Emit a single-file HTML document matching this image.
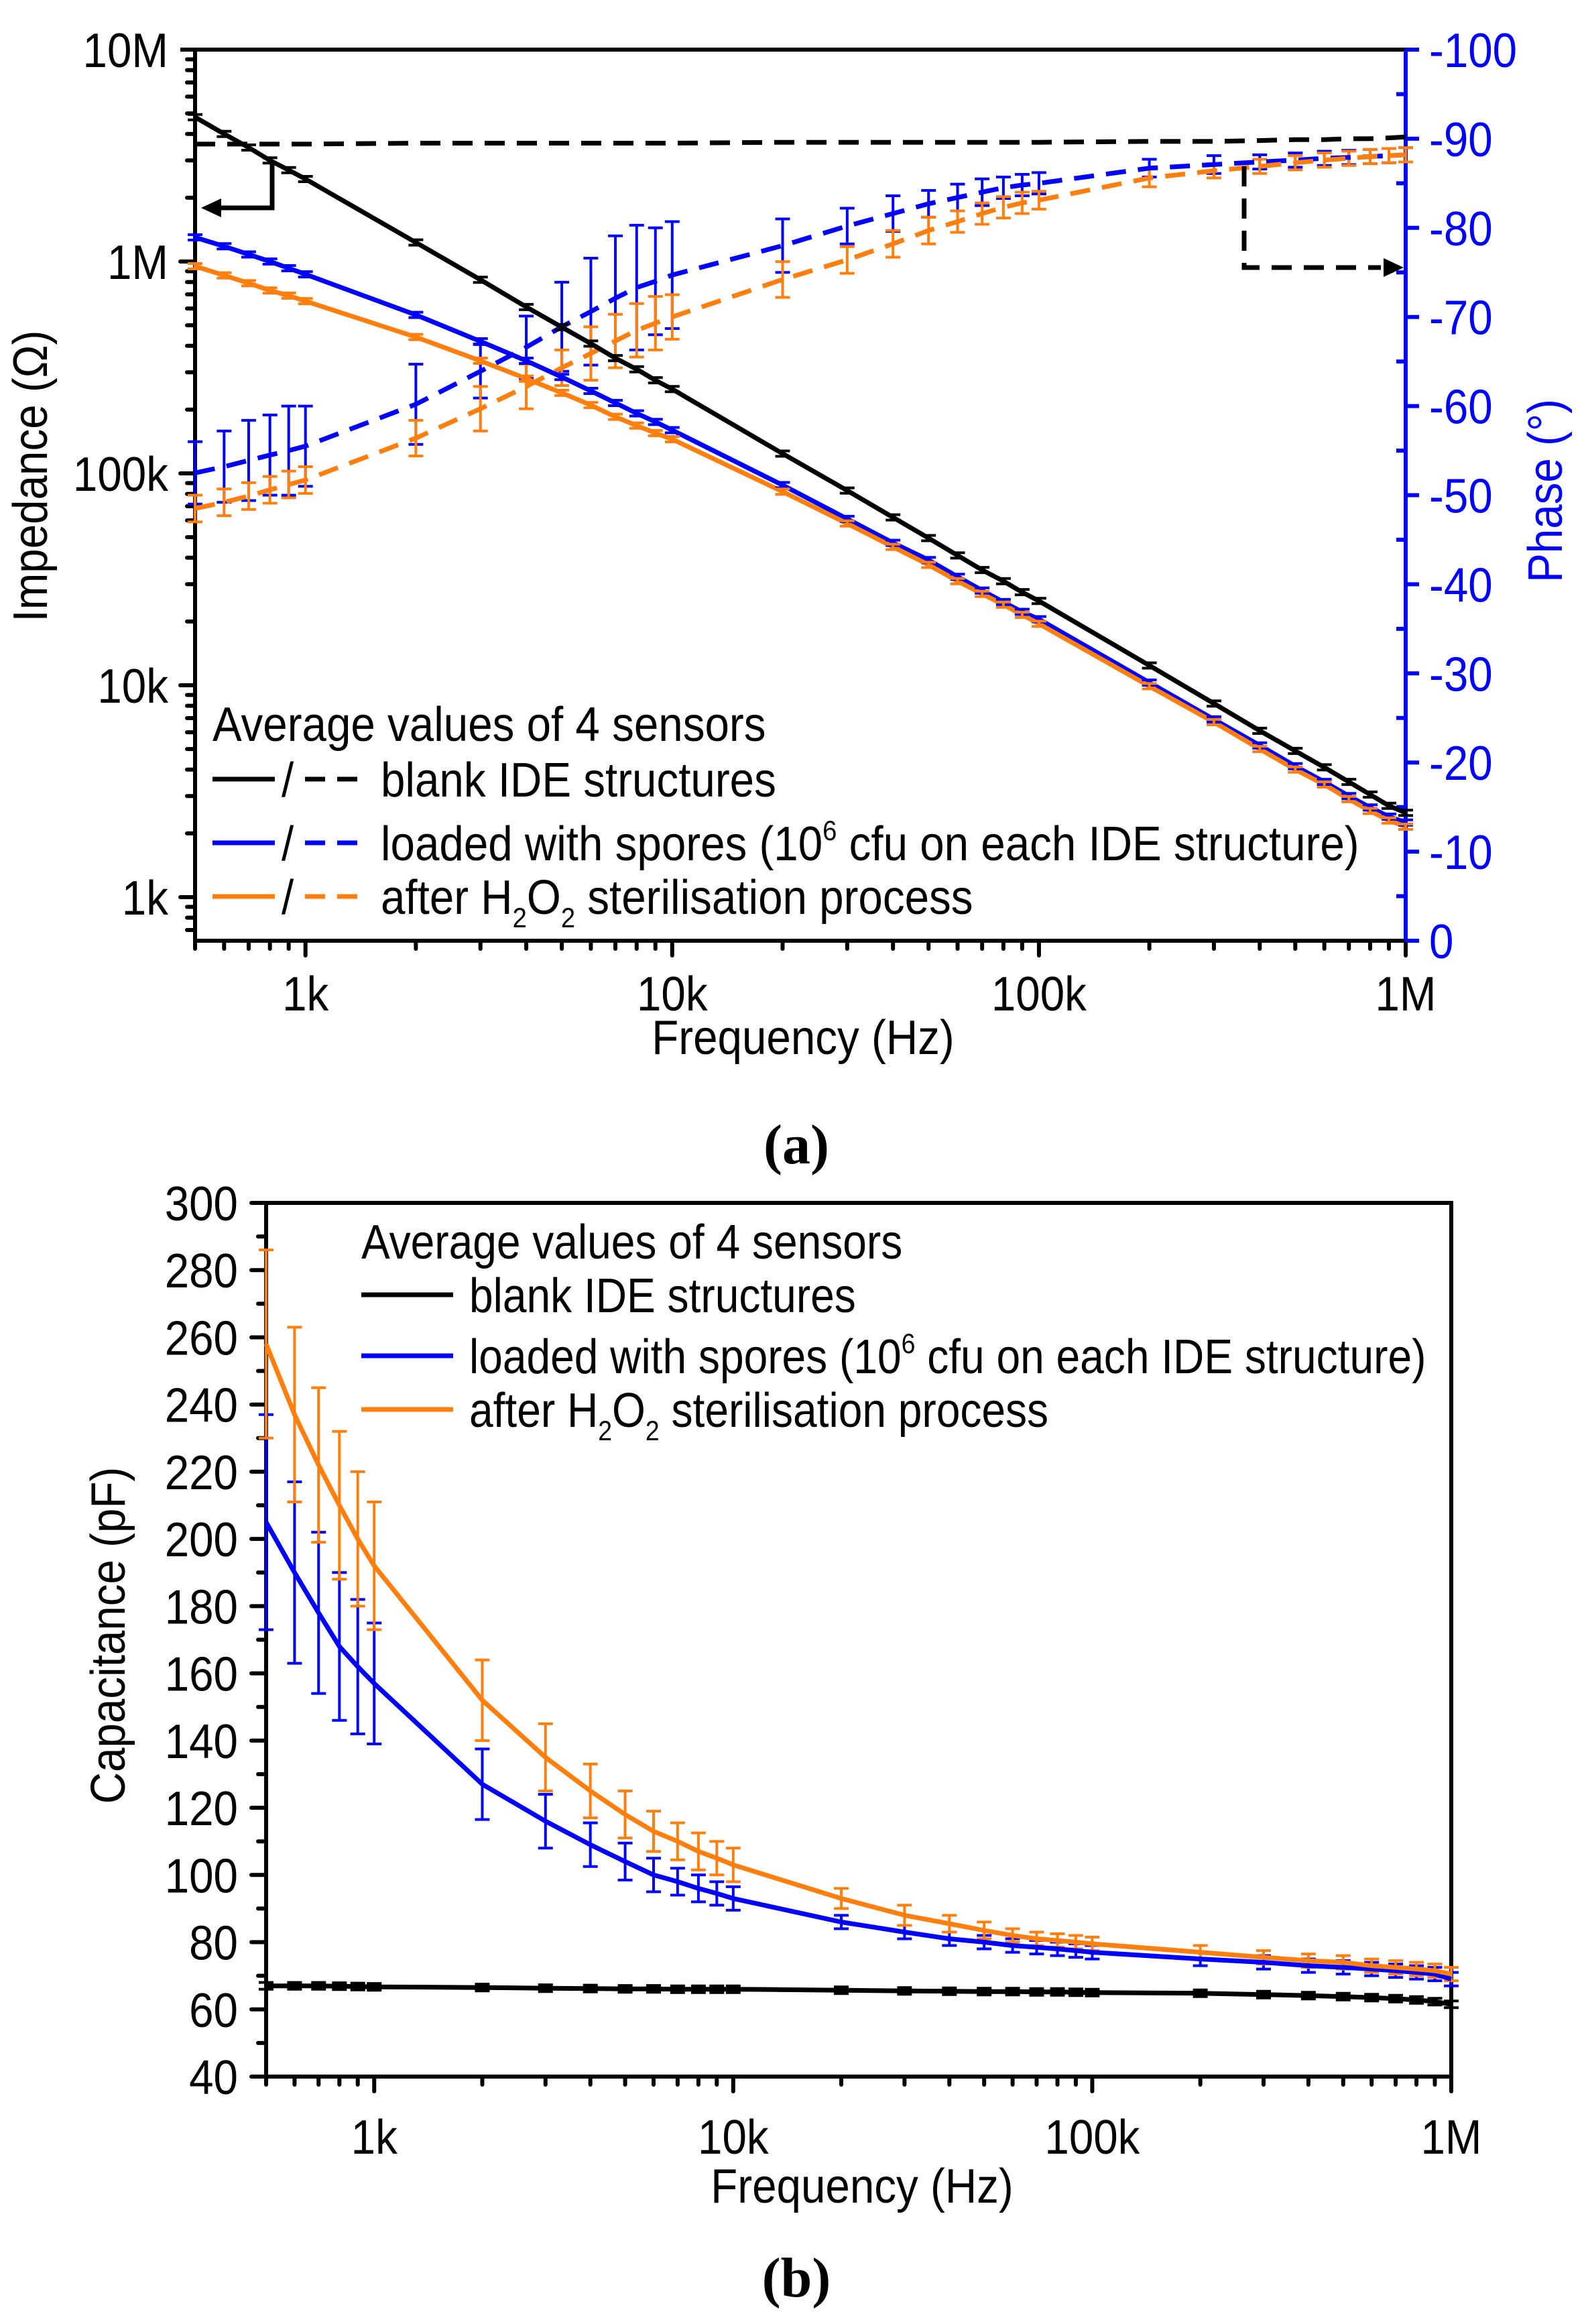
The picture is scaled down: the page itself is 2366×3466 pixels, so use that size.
<!DOCTYPE html>
<html><head><meta charset="utf-8"><style>
html,body{margin:0;padding:0;background:#fff;}
svg text{font-family:"Liberation Sans",Arial,sans-serif;}
</style></head><body>
<svg id="fig" width="2366" height="3461" viewBox="0 0 2366 3461" xmlns="http://www.w3.org/2000/svg">
<g id="chartA"></g>
<g id="chartB"></g>
<text x="1188" y="1735" text-anchor="middle" style="font-family:'Liberation Serif',serif;font-weight:bold;font-size:84px">(a)</text>
<text x="1188" y="3425" text-anchor="middle" style="font-family:'Liberation Serif',serif;font-weight:bold;font-size:84px">(b)</text>
</svg>
<script>
const freqs = [500,600,700,800,900,1e3,2e3,3e3,4e3,5e3,6e3,7e3,8e3,9e3,1e4,2e4,3e4,4e4,5e4,6e4,7e4,8e4,9e4,1e5,2e5,3e5,4e5,5e5,6e5,7e5,8e5,9e5,1e6];
const zBlank = [4.8e6,4.0e6,3.45e6,3.0e6,2.7e6,2.45e6,1.23e6,8.2e5,6.1e5,4.9e5,4.1e5,3.5e5,3.1e5,2.75e5,2.5e5,1.24e5,8.3e4,6.2e4,4.95e4,4.1e4,3.5e4,3.1e4,2.75e4,2.5e4,1.24e4,8.2e3,6.1e3,4.9e3,4.1e3,3.5e3,3.05e3,2.7e3,2.5e3];
const zSpores = [1.3e6,1.18e6,1.08e6,1.0e6,9.3e5,8.7e5,5.6e5,4.2e5,3.4e5,2.85e5,2.45e5,2.15e5,1.92e5,1.75e5,1.6e5,8.8e4,6.1e4,4.7e4,3.9e4,3.25e4,2.8e4,2.47e4,2.22e4,2.05e4,1.03e4,6.9e3,5.2e3,4.15e3,3.5e3,3.0e3,2.65e3,2.4e3,2.25e3];
const zSteril = [9.5e5,8.6e5,7.9e5,7.3e5,6.9e5,6.5e5,4.4e5,3.4e5,2.8e5,2.4e5,2.1e5,1.85e5,1.68e5,1.55e5,1.45e5,8.2e4,5.8e4,4.5e4,3.7e4,3.1e4,2.7e4,2.4e4,2.15e4,1.95e4,9.9e3,6.7e3,5.0e3,4.0e3,3.4e3,2.9e3,2.55e3,2.3e3,2.15e3];
const pBlank = [-89.4,-89.4,-89.4,-89.4,-89.4,-89.4,-89.5,-89.5,-89.5,-89.5,-89.5,-89.5,-89.5,-89.5,-89.5,-89.6,-89.6,-89.6,-89.6,-89.6,-89.6,-89.6,-89.6,-89.6,-89.7,-89.7,-89.8,-89.9,-89.9,-90.0,-90.0,-90.1,-90.2];
const pSpores = [-52.5,-53.2,-53.9,-54.5,-55.0,-55.5,-60.2,-63.9,-66.6,-68.9,-70.6,-72.1,-73.3,-74.0,-74.7,-78.0,-80.2,-81.6,-82.7,-83.4,-84.0,-84.5,-84.8,-85.0,-86.7,-87.1,-87.4,-87.6,-87.8,-87.9,-88.0,-88.1,-88.2];
const pSteril = [-48.5,-49.2,-49.9,-50.6,-51.2,-51.7,-56.4,-59.7,-62.2,-64.3,-65.9,-67.3,-68.5,-69.3,-70.0,-74.2,-76.4,-78.2,-79.7,-80.7,-81.6,-82.3,-82.8,-83.1,-85.6,-86.4,-86.9,-87.3,-87.6,-87.8,-88.0,-88.1,-88.2];
const pSporesErr = [3.5,4,4.5,4.5,5,4.5,4.5,3,3.5,5,6,7,7,6,6,3,2,2,1.5,1.5,1.5,1.2,1.2,1.2,1,1,0.8,0.8,0.8,0.8,0.8,0.8,0.8];
const pSterilErr = [1.5,1.5,1.5,1.5,1.5,1.5,2,2.5,2.5,2,3,3,3,3,2.5,2,1.5,1.5,1.5,1.2,1.2,1.2,1.2,1,1,0.8,0.8,0.8,0.8,0.8,0.8,0.8,0.8];
const cBlank = [67,67,67,66.9,66.8,66.7,66.5,66.3,66.2,66.1,66.1,66,66,66,66,65.7,65.5,65.4,65.3,65.3,65.2,65.2,65.1,65,64.8,64.4,64.1,63.8,63.5,63.2,62.8,62.3,61.5];
const cSpores = [205,190,178,168,162,157,127,116,109,104,100,98,96,94.5,93,86,83,81,80,79,78.5,78,77.5,77,75,74,73,72.5,72,71.5,71,70.5,69];
const cSteril = [258,237,222,210,200,192,152,135,125,118,113,110,107,105,103,93,88,85.5,83.5,82,81,80.5,80,79.5,77,75.5,74.5,74,73,72.5,72,71.5,70.5];
const cSporesErr = [32,27,24,22,20,18,10.5,8,6.5,5.5,5,4,4,3.5,3.5,2,2,2,2,2,2,2,2,2,2,2,2,2,2,2,2,2,2];
const cSterilErr = [28,26,23,22,20,19,12,10,8,7,6,5.5,5.5,5,5,3,3,2.5,2.5,2,2,2,2,2,2,2,2,2,2,2,2,2,2];
const zTicks = [1e3,1e4,1e5,1e6,1e7];
const zTickLabels = ["1k","10k","100k","1M","10M"];
const pTicks = [0,-10,-20,-30,-40,-50,-60,-70,-80,-90,-100];
const xTicks = [1e3,1e4,1e5,1e6];
const xTickLabels = ["1k","10k","100k","1M"];
const cTicks = [40,60,80,100,120,140,160,180,200,220,240,260,280,300];

const NS="http://www.w3.org/2000/svg";
const BLUE="#0000ff", ORANGE="#ff7f0e", BLACK="#000";
const LW=7;
function mk(parent,tag,attrs){const e=document.createElementNS(NS,tag);for(const k in attrs)e.setAttribute(k,attrs[k]);parent.appendChild(e);return e;}
function txt(parent,x,y,s,size,anchor,fill,sx){
  const t=document.createElementNS(NS,'text');
  t.setAttribute('transform',`translate(${x},${y}) scale(${sx||0.91},1)`);
  t.setAttribute('font-size',size);t.setAttribute('text-anchor',anchor||'start');t.setAttribute('fill',fill||'#000');
  t.textContent=s;parent.appendChild(t);return t;
}
const A={l:291,r:2097,t:74,b:1403};
const LX0=Math.log10(500),LX1=6;
function xA(f){return A.l+(Math.log10(f)-LX0)/(LX1-LX0)*(A.r-A.l);}
const LZ1=7,LZ0=7-(A.b-A.t)/316;
function yZ(z){return A.b-(Math.log10(z)-LZ0)/(LZ1-LZ0)*(A.b-A.t);}
function yP(p){return A.b-(-p/100)*(A.b-A.t);}
const B={l:397,r:2165,t:1794,b:3097};
function xB(f){return B.l+(Math.log10(f)-LX0)/(LX1-LX0)*(B.r-B.l);}
function yC(c){return B.b-(c-40)/260*(B.b-B.t);}

function pathD(xs,ys){return xs.map((x,i)=>(i?'L':'M')+x.toFixed(1)+' '+ys[i].toFixed(1)).join(' ');}
function series(g,xf,yf,vals,color,dash,name){
  const p=mk(g,'path',{d:pathD(freqs.map(xf),vals.map(yf)),fill:'none',stroke:color,'stroke-width':LW,'stroke-dasharray':dash||'none','stroke-linejoin':'round'});
  
  
}
function errbars(g,xf,yf,vals,errs,color,name){
  const eg=mk(g,'g',{stroke:color,'stroke-width':4,fill:'none'});
  
  
  vals.forEach((v,i)=>{const x=xf(freqs[i]),y1=yf(v-errs[i]),y2=yf(v+errs[i]);
    mk(eg,'path',{d:`M${x} ${y1}L${x} ${y2}M${x-11} ${y1}L${x+11} ${y1}M${x-11} ${y2}L${x+11} ${y2}`});});
}
function xMinor(g,xf,y0,dir){
  for(let d=100;d<1e6;d*=10)for(let m=1;m<=9;m++){const f=d*m;if(f<500||f>1e6)continue;
    const maj=(m===1);mk(g,'line',{x1:xf(f),x2:xf(f),y1:y0,y2:y0+dir*(maj?22:12),stroke:'#000','stroke-width':6,'stroke-linecap':'round'});}
  mk(g,'line',{x1:xf(1e6),x2:xf(1e6),y1:y0,y2:y0+dir*22,stroke:'#000','stroke-width':6,'stroke-linecap':'round'});
}

// ---------- Chart A ----------
const gA=document.getElementById('chartA');
const axA=mk(gA,'g',{});


xMinor(axA,xA,A.b,1);
for(let e=2;e<7;e++)for(let m=1;m<=9;m++){const z=Math.pow(10,e)*m;const y=yZ(z);if(y>A.b||y<A.t)continue;
  mk(axA,'line',{x1:A.l,x2:A.l-(m===1?22:12),y1:y,y2:y,stroke:'#000','stroke-width':6,'stroke-linecap':'round'});}
mk(axA,'line',{x1:A.l,x2:A.l-22,y1:yZ(1e7),y2:yZ(1e7),stroke:'#000','stroke-width':6});
for(let p=0;p>=-100;p-=5){mk(axA,'line',{x1:A.r,x2:A.r-(p%10===0?0:14),y1:yP(p),y2:yP(p),stroke:BLUE,'stroke-width':6});
  mk(axA,'line',{x1:A.r,x2:A.r+(p%10===0?20:0),y1:yP(p),y2:yP(p),stroke:BLUE,'stroke-width':6});}
mk(axA,'path',{d:`M${A.r} ${A.t}L${A.l} ${A.t}L${A.l} ${A.b}L${A.r} ${A.b}`,fill:'none',stroke:'#000','stroke-width':6});
mk(axA,'line',{x1:A.r,x2:A.r,y1:A.t,y2:A.b,stroke:BLUE,'stroke-width':6});
zTicks.forEach((z,i)=>{const t=txt(axA,251,yZ(z)+26,zTickLabels[i],72,'end');
  
  });
pTicks.forEach(p=>{const t=txt(axA,2132,yP(p)+26,String(p),72,'start',BLUE);
  
  });
xTicks.forEach((f,i)=>{const t=txt(axA,xA(f),1507,xTickLabels[i],72,'middle');
  
  });
let t;
t=txt(axA,1198,1572,'Frequency (Hz)',72,'middle');


t=document.createElementNS(NS,'text');t.setAttribute('transform','translate(70,710) rotate(-90) scale(0.91,1)');
t.setAttribute('font-size',72);t.setAttribute('text-anchor','middle');t.textContent='Impedance (Ω)';axA.appendChild(t);


t=document.createElementNS(NS,'text');t.setAttribute('transform','translate(2330,732) rotate(-90) scale(0.91,1)');
t.setAttribute('font-size',72);t.setAttribute('text-anchor','middle');t.setAttribute('fill',BLUE);t.textContent='Phase (°)';axA.appendChild(t);



const dataA=mk(gA,'g',{});


errbars(dataA,xA,yP,pSpores,pSporesErr,BLUE,'phase-spores-errorbars');
errbars(dataA,xA,yP,pSteril,pSterilErr,ORANGE,'phase-steril-errorbars');
series(dataA,xA,yP,pBlank,BLACK,'30 18','phase-blank-line');
series(dataA,xA,yP,pSpores,BLUE,'30 18','phase-spores-line');
series(dataA,xA,yP,pSteril,ORANGE,'30 18','phase-steril-line');
series(dataA,xA,yZ,zBlank,BLACK,null,'impedance-blank-line');
series(dataA,xA,yZ,zSpores,BLUE,null,'impedance-spores-line');
series(dataA,xA,yZ,zSteril,ORANGE,null,'impedance-steril-line');
function zerr(g,vals,color,name){const eg=mk(g,'g',{stroke:color,'stroke-width':4});
  
  
  vals.forEach((v,i)=>{const x=xA(freqs[i]),y=yZ(v);mk(eg,'path',{d:`M${x-11} ${y-4}L${x+11} ${y-4}M${x-11} ${y+4}L${x+11} ${y+4}M${x} ${y-4}L${x} ${y+4}`});});}
zerr(dataA,zBlank,BLACK,'impedance-blank-errorbars');
zerr(dataA,zSpores,BLUE,'impedance-spores-errorbars');
zerr(dataA,zSteril,ORANGE,'impedance-steril-errorbars');
const arr=mk(gA,'g',{});


mk(arr,'path',{d:'M406 240L406 310L322 310',fill:'none',stroke:'#000','stroke-width':LW});
mk(arr,'path',{d:'M300 310L330 296L330 324Z',fill:'#000'});
mk(arr,'path',{d:'M1856 248L1856 399L2060 399',fill:'none',stroke:'#000','stroke-width':LW,'stroke-dasharray':'30 18'});
mk(arr,'path',{d:'M2094 399L2064 385L2064 413Z',fill:'#000'});
const lgA=mk(gA,'g',{});


txt(lgA,317,1105,'Average values of 4 sensors',72);
const rowsA=[[1162,BLACK],[1257,BLUE],[1337,ORANGE]];
rowsA.forEach(r=>{mk(lgA,'line',{x1:317,x2:410,y1:r[0],y2:r[0],stroke:r[1],'stroke-width':LW});
  txt(lgA,420,r[0]+26,'/',72);
  mk(lgA,'line',{x1:455,x2:545,y1:r[0],y2:r[0],stroke:r[1],'stroke-width':LW,'stroke-dasharray':'30 18'});});
txt(lgA,568,1188,'blank IDE structures',72);
t=txt(lgA,568,1283,'',72);
t.innerHTML='loaded with spores (10<tspan dy="-30" font-size="42">6</tspan><tspan dy="30"> cfu on each IDE structure)</tspan>';
t=txt(lgA,568,1363,'',72);
t.innerHTML='after H<tspan dy="20" font-size="42">2</tspan><tspan dy="-20">O</tspan><tspan dy="20" font-size="42">2</tspan><tspan dy="-20"> sterilisation process</tspan>';

// ---------- Chart B ----------
const gB=document.getElementById('chartB');
const axB=mk(gB,'g',{});


xMinor(axB,xB,B.b,1);
for(let c=40;c<=300;c+=10)mk(axB,'line',{x1:B.l,x2:B.l-(c%20===0?22:12),y1:yC(c),y2:yC(c),stroke:'#000','stroke-width':6,'stroke-linecap':'round'});
mk(axB,'rect',{x:B.l,y:B.t,width:B.r-B.l,height:B.b-B.t,fill:'none',stroke:'#000','stroke-width':6});
cTicks.forEach(c=>{const t=txt(axB,355,yC(c)+26,String(c),72,'end');
  
  });
xTicks.forEach((f,i)=>{const t=txt(axB,xB(f),3212,xTickLabels[i],72,'middle');
  
  });
t=txt(axB,1286,3285,'Frequency (Hz)',72,'middle');


t=document.createElementNS(NS,'text');t.setAttribute('transform','translate(186,2439) rotate(-90) scale(0.91,1)');
t.setAttribute('font-size',72);t.setAttribute('text-anchor','middle');t.textContent='Capacitance (pF)';axB.appendChild(t);



const dataB=mk(gB,'g',{});


errbars(dataB,xB,yC,cSpores,cSporesErr,BLUE,'cap-spores-errorbars');
errbars(dataB,xB,yC,cSteril,cSterilErr,ORANGE,'cap-steril-errorbars');
errbars(dataB,xB,yC,cBlank,cBlank.map(()=>1),BLACK,'cap-blank-errorbars');
series(dataB,xB,yC,cBlank,BLACK,null,'cap-blank-line');
series(dataB,xB,yC,cSpores,BLUE,null,'cap-spores-line');
series(dataB,xB,yC,cSteril,ORANGE,null,'cap-steril-line');
const lgB=mk(gB,'g',{});


txt(lgB,539,1877,'Average values of 4 sensors',72,'start','#000',0.89);
[[1931,BLACK],[2022,BLUE],[2102,ORANGE]].forEach(r=>mk(lgB,'line',{x1:539,x2:676,y1:r[0],y2:r[0],stroke:r[1],'stroke-width':LW}));
txt(lgB,700,1957,'blank IDE structures',72,'start','#000',0.89);
t=txt(lgB,700,2048,'',72,'start','#000',0.89);
t.innerHTML='loaded with spores (10<tspan dy="-30" font-size="42">6</tspan><tspan dy="30"> cfu on each IDE structure)</tspan>';
t=txt(lgB,700,2128,'',72,'start','#000',0.89);
t.innerHTML='after H<tspan dy="20" font-size="42">2</tspan><tspan dy="-20">O</tspan><tspan dy="20" font-size="42">2</tspan><tspan dy="-20"> sterilisation process</tspan>';
</script>
</body></html>
